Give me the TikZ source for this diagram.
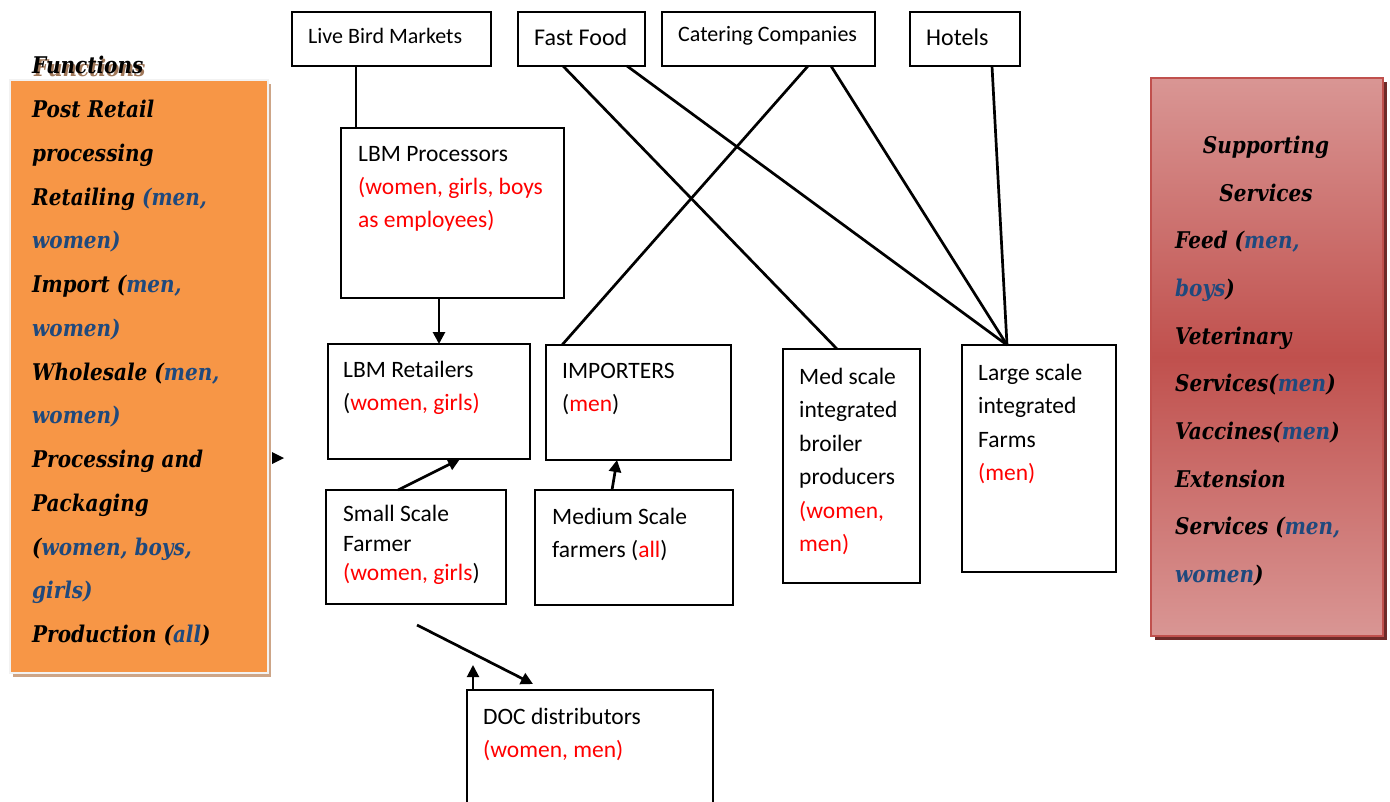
\documentclass[tikz,border=0pt]{standalone}
\usepackage{fontspec}
\setmainfont{Carlito}
\newfontfamily\panelfont[FakeStretch=0.87]{DejaVu Serif}
\usetikzlibrary{arrows.meta,shadows}
\definecolor{orangefill}{HTML}{F79646}
\definecolor{orangeedge}{HTML}{F2F2F2}
\definecolor{orangeshade}{HTML}{CDA587}
\definecolor{titleshade}{HTML}{A0785A}
\definecolor{redlight}{HTML}{D99694}
\definecolor{redmid}{HTML}{C0504D}
\definecolor{redshade}{HTML}{6F2B29}
\definecolor{tagblue}{HTML}{1F497D}
\definecolor{tagred}{HTML}{FF0000}
\newcommand{\redtag}[1]{\textcolor{tagred}{#1}}
\newcommand{\bluetag}[1]{\textcolor{tagblue}{#1}}
% text with a soft offset shadow behind it
\newcommand{\shadowedtext}[1]{\rlap{\hspace{2pt}\raisebox{-3pt}{\textcolor{titleshade}{#1}}}#1}
\begin{document}
\begin{tikzpicture}[x=1pt,y=-1pt,
  box/.style={draw, line width=2.9pt, inner sep=0pt, outer sep=0pt, anchor=north west},
  boxtext/.style={anchor=north west, inner sep=0pt, align=left, font=\fontsize{23.5}{33}\selectfont},
  toptext/.style={anchor=west, inner sep=0pt},
  link/.style={line width=2.7pt},
  arrow/.style={line width=2.7pt, -{Triangle[length=12pt,width=12pt]}},
  panelfontstyle/.style={font=\panelfont\bfseries\itshape\fontsize{23}{43.75}\selectfont},
  paneltext/.style={panelfontstyle, anchor=north west, inner sep=0pt, align=left},
]
\useasboundingbox (0,0) rectangle (1390,801);

% side panels
\node[box, draw=orangeedge, line width=2.5pt, fill=orangefill,
  minimum width=258pt, minimum height=593pt,
  drop shadow={shadow xshift=3pt, shadow yshift=-4pt, fill=orangeshade, opacity=1}] (functions) at (10,80) {};
\node[box, draw=redmid, line width=2.5pt, top color=redlight, bottom color=redlight, middle color=redmid,
  minimum width=232pt, minimum height=558pt,
  drop shadow={shadow xshift=4pt, shadow yshift=-4pt, fill=redshade, opacity=1}] (support) at (1151,78) {};

\node[panelfontstyle, anchor=west, inner sep=0pt] (functionstitle) at (32,66) {\shadowedtext{Functions}};

\node[paneltext] (functionslist) at (32,100) {Post Retail\\processing\\Retailing \bluetag{(men,}\\\bluetag{women)}\\Import (\bluetag{men,}\\\bluetag{women)}\\Wholesale (\bluetag{men,}\\\bluetag{women)}\\Processing and\\Packaging\\(\bluetag{women, boys,}\\\bluetag{girls)}\\Production (\bluetag{all})};

\node[panelfontstyle, anchor=north, inner sep=0pt, align=center, font=\panelfont\bfseries\itshape\fontsize{23}{47.7}\selectfont] (supporthead) at (1266,136) {Supporting\\Services};
\node[paneltext, font=\panelfont\bfseries\itshape\fontsize{23}{47.7}\selectfont] (supportlist) at (1175,231) {Feed (\bluetag{men,}\\\bluetag{boys})\\Veterinary\\Services(\bluetag{men})\\Vaccines(\bluetag{men})\\Extension\\Services (\bluetag{men,}\\\bluetag{women})};

% top row of outlets
\node[box, minimum width=199pt, minimum height=54pt] (lbm) at (292,12) {};
\node[box, minimum width=127pt, minimum height=54pt] (ff) at (518,12) {};
\node[box, minimum width=213pt, minimum height=54pt] (cat) at (662,12) {};
\node[box, minimum width=110pt, minimum height=54pt] (hot) at (910,12) {};
\node[toptext, font=\fontsize{22}{26}\selectfont] (lbmtext) at ([shift={(16,-3)}]lbm.west) {Live Bird Markets};
\node[toptext, font=\fontsize{24}{28}\selectfont] (fftext) at ([shift={(16,-2)}]ff.west) {Fast Food};
\node[toptext, font=\fontsize{22}{26}\selectfont] (cattext) at ([shift={(16,-3)}]cat.west) {Catering Companies};
\node[toptext, font=\fontsize{24}{28}\selectfont] (hottext) at ([shift={(16,-2)}]hot.west) {Hotels};

% actors
\node[box, minimum width=223pt, minimum height=170pt] (proc) at (341,128) {};
\node[box, minimum width=202pt, minimum height=115pt] (ret) at (328,344) {};
\node[box, minimum width=185pt, minimum height=115pt] (imp) at (546,345) {};
\node[box, minimum width=137pt, minimum height=234pt] (med) at (783,349) {};
\node[box, minimum width=154pt, minimum height=227pt] (large) at (962,345) {};
\node[box, line width=2pt, minimum width=180pt, minimum height=114pt] (small) at (326,490) {};
\node[box, minimum width=198pt, minimum height=115pt] (medium) at (535,490) {};
\node[box, minimum width=246pt, minimum height=130pt] (doc) at (467,690) {};

\node[boxtext] (proctext) at ([shift={(17,18)}]proc.north west) {LBM Processors\\\redtag{(women, girls, boys}\\\redtag{as employees)}};
\node[boxtext] (rettext) at ([shift={(15,17)}]ret.north west) {LBM Retailers\\(\redtag{women, girls)}};
\node[boxtext] (imptext) at ([shift={(16,18)}]imp.north west) {IMPORTERS\\(\redtag{men})};
\node[boxtext, font=\fontsize{23.5}{33.4}\selectfont] (medtext) at ([shift={(16,19)}]med.north west) {Med scale\\integrated\\broiler\\producers\\\redtag{(women,}\\\redtag{men)}};
\node[boxtext, font=\fontsize{23.5}{33.3}\selectfont] (largetext) at ([shift={(16,19)}]large.north west) {Large scale\\integrated\\Farms\\\redtag{(men)}};
\node[boxtext, font=\fontsize{23.5}{29.5}\selectfont] (smalltext) at ([shift={(17,15)}]small.north west) {Small Scale\\Farmer\\\redtag{(women, girls})};
\node[boxtext] (mediumtext) at ([shift={(17,18)}]medium.north west) {Medium Scale\\farmers (\redtag{all})};
\node[boxtext] (doctext) at ([shift={(16,18)}]doc.north west) {DOC distributors\\\redtag{(women, men)}};

% links between outlets and producers
\draw[link] ([xshift=64pt]lbm.south west) -- ([xshift=15pt]proc.north west);
\draw[link] ([xshift=45pt]ff.south west) -- ([xshift=54pt]med.north west);
\draw[link] ([xshift=109pt]ff.south west) -- ([xshift=45pt]large.north west);
\draw[link] ([xshift=146pt]cat.south west) -- ([xshift=16pt]imp.north west);
\draw[link] ([xshift=169pt]cat.south west) -- ([xshift=45pt]large.north west);
\draw[link] ([xshift=82pt]hot.south west) -- ([xshift=45pt]large.north west);

% product flows
\draw[arrow] ([xshift=98pt]proc.south west) -- ([xshift=111pt]ret.north west);
\draw[arrow] ([xshift=72pt]small.north west) -- ([xshift=132pt]ret.south west);
\draw[arrow] ([xshift=77pt]medium.north west) -- ([xshift=71pt]imp.south west);

\coordinate (chickstart) at (417,625);
\coordinate (chickend) at (533,684);
\coordinate (docup) at (473,665);
\draw[arrow] (chickstart) -- (chickend);
\draw[arrow, line width=2pt] ([xshift=6pt]doc.north west) -- (docup);

% arrow tip beside the functions panel
\fill (272,452) -- (284,458) -- (272,464) -- cycle;
\end{tikzpicture}
\end{document}
